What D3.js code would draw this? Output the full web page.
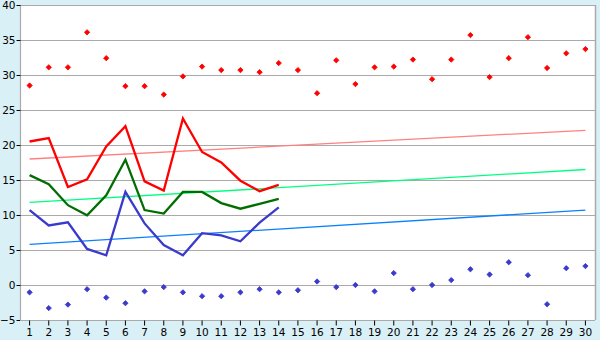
<!DOCTYPE html>
<html><head><meta charset="utf-8">
<script src="https://cdn.jsdelivr.net/npm/d3@7"></script>
<style>body{margin:0;background:#d9f0f6;}svg{display:block;}</style>
</head><body>
<svg id="c" width="600" height="340"></svg>
<script>
const categories = d3.range(1, 31).map(String);
const yTicks = [-5, 0, 5, 10, 15, 20, 25, 30, 35, 40];
const redLine = [20.5, 21.0, 14.0, 15.1, 19.8, 22.7, 14.8, 13.5, 23.8, 19.0, 17.5, 14.9, 13.4, 14.3];
const greenLine = [15.7, 14.4, 11.4, 9.95, 12.8, 17.9, 10.7, 10.2, 13.3, 13.3, 11.7, 10.9, 11.6, 12.3];
const blueLine = [10.7, 8.5, 8.95, 5.15, 4.25, 13.3, 8.8, 5.7, 4.25, 7.4, 7.1, 6.25, 8.9, 11.1];
const redPoints = [28.5, 31.1, 31.1, 36.1, 32.4, 28.4, 28.4, 27.2, 29.8, 31.2, 30.7, 30.7, 30.4, 31.7, 30.7,
  27.4, 32.1, 28.7, 31.1, 31.2, 32.2, 29.4, 32.2, 35.7, 29.7, 32.4, 35.4, 31.0, 33.1, 33.7];
const bluePoints = [-1.05, -3.3, -2.8, -0.6, -1.8, -2.6, -0.9, -0.3, -1.05, -1.6, -1.6, -1.05, -0.6, -1.05, -0.75,
  0.5, -0.3, 0.0, -0.9, 1.7, -0.6, 0.0, 0.7, 2.25, 1.5, 3.25, 1.4, -2.75, 2.4, 2.7];
const redTrend = [18.0, 22.1];
const greenTrend = [11.8, 16.5];
const blueTrend = [5.8, 10.7];
const trendCats = ["1", "30"];

const svg = d3.select("#c");
const L = 20, R = 595, T = 5, B = 320;
const x = d3.scaleBand().domain(categories).range([L, R]).padding(0);
const y = d3.scaleLinear().domain([-5, 40]).range([B, T]);
const cx = c => x(c) + x.bandwidth() / 2;

svg.append("rect").attr("x", 0).attr("y", 0).attr("width", 600).attr("height", 340).attr("fill", "#d9f0f6");
svg.append("rect").attr("x", L).attr("y", T).attr("width", R - L).attr("height", B - T).attr("fill", "#ffffff");

// gridlines
svg.append("g").selectAll("line").data(yTicks).join("line")
  .attr("x1", L).attr("x2", R)
  .attr("y1", d => Math.round(y(d)) + 0.5).attr("y2", d => Math.round(y(d)) + 0.5)
  .attr("stroke", "#aaaaaa").attr("stroke-width", 1);
svg.append("line").attr("x1", R + 0.5).attr("x2", R + 0.5).attr("y1", T).attr("y2", B)
  .attr("stroke", "#aaaaaa").attr("stroke-width", 1.5);

// axes
const yAxis = svg.append("g").attr("transform", `translate(${L + 0.5},0)`)
  .call(d3.axisLeft(y).tickValues(yTicks).tickSize(4).tickPadding(1).tickFormat(d => d < 0 ? "\u2212" + Math.abs(d) : d));
const xAxis = svg.append("g").attr("transform", `translate(0,${B + 0.5})`)
  .call(d3.axisBottom(x).tickSize(5).tickPadding(3));
[yAxis, xAxis].forEach(a => {
  a.select(".domain").attr("stroke", "#aaaaaa").attr("stroke-width", 1.2);
  a.selectAll(".tick line").attr("stroke", "#000").attr("stroke-width", 1);
  a.selectAll("text").attr("fill", "#000").attr("font-family", "DejaVu Sans, Verdana, sans-serif").attr("font-size", "10.5px");
});
yAxis.select(".domain").attr("d", `M0,${T}V${B}`);
xAxis.select(".domain").attr("d", `M${L},0H${R}`);

// trend lines
const trends = [[redTrend, "#ff8080"], [greenTrend, "#00ff80"], [blueTrend, "#0a80ff"]];
trends.forEach(([vals, col]) => {
  svg.append("line")
    .attr("x1", cx(trendCats[0])).attr("y1", y(vals[0]))
    .attr("x2", cx(trendCats[1])).attr("y2", y(vals[1]))
    .attr("stroke", col).attr("stroke-width", 1.3);
});

// main lines
const line = d3.line().x((d, i) => cx(categories[i])).y(d => y(d));
[[redLine, "#ff0000"], [greenLine, "#006e00"], [blueLine, "#3a3acc"]].forEach(([vals, col]) => {
  svg.append("path").attr("d", line(vals)).attr("fill", "none").attr("stroke", col)
    .attr("stroke-width", 2.3).attr("stroke-linejoin", "miter");
});

// point markers: compact diamond
const sym = d3.symbol().type(d3.symbolSquare).size(14);
[[redPoints, "#ff0000"], [bluePoints, "#3a3acc"]].forEach(([vals, col]) => {
  svg.append("g").selectAll("path").data(vals).join("path")
    .attr("transform", (d, i) => `translate(${cx(categories[i])},${y(d)}) rotate(45)`)
    .attr("d", sym).attr("fill", col).attr("stroke", col).attr("stroke-width", 0.8);
});
</script>
</body></html>
